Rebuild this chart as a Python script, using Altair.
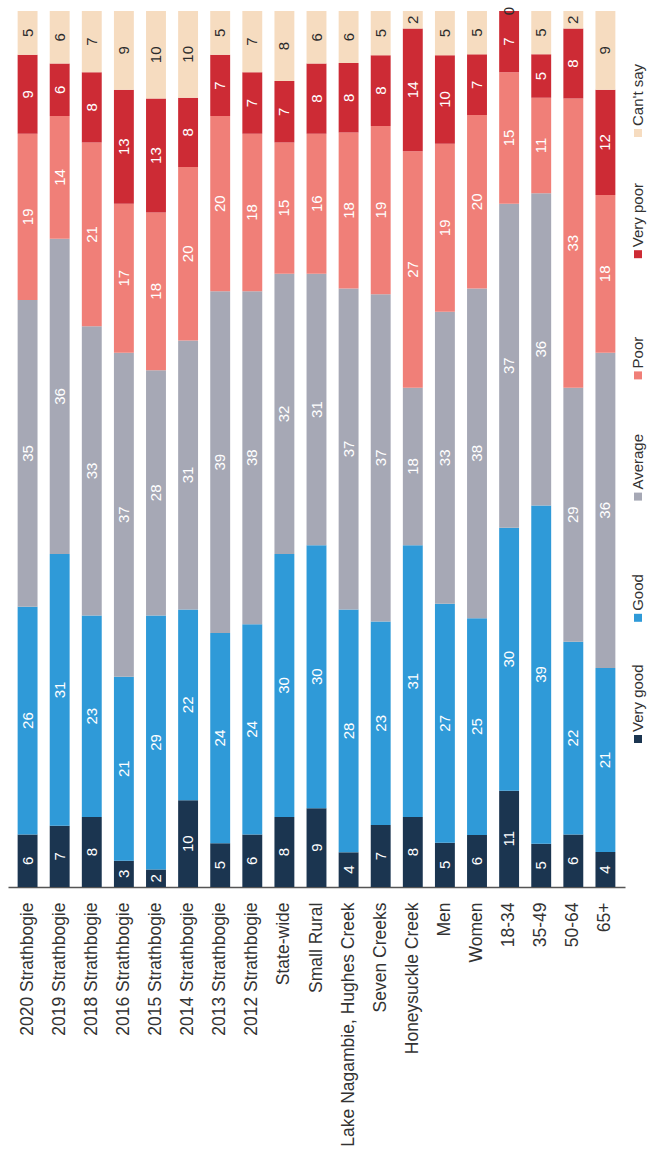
import altair as alt
import pandas as pd

# Survey ratings per group, stacked from "Very good" (bottom) to "Can't say" (top)
categories = [
    "2020 Strathbogie", "2019 Strathbogie", "2018 Strathbogie", "2016 Strathbogie",
    "2015 Strathbogie", "2014 Strathbogie", "2013 Strathbogie", "2012 Strathbogie",
    "State-wide", "Small Rural", "Lake Nagambie, Hughes Creek", "Seven Creeks",
    "Honeysuckle Creek", "Men", "Women", "18-34", "35-49", "50-64", "65+",
]
series = ["Very good", "Good", "Average", "Poor", "Very poor", "Can't say"]

very_good = [6, 7, 8, 3, 2, 10, 5, 6, 8, 9, 4, 7, 8, 5, 6, 11, 5, 6, 4]
good = [26, 31, 23, 21, 29, 22, 24, 24, 30, 30, 28, 23, 31, 27, 25, 30, 39, 22, 21]
average = [35, 36, 33, 37, 28, 31, 39, 38, 32, 31, 37, 37, 18, 33, 38, 37, 36, 29, 36]
poor = [19, 14, 21, 17, 18, 20, 20, 18, 15, 16, 18, 19, 27, 19, 20, 15, 11, 33, 18]
very_poor = [9, 6, 8, 13, 13, 8, 7, 7, 7, 8, 8, 8, 14, 10, 7, 7, 5, 8, 12]
cant_say = [5, 6, 7, 9, 10, 10, 5, 7, 8, 6, 6, 5, 2, 5, 5, 0, 5, 2, 9]

colors = ["#1b3550", "#2f9ad8", "#a6a8b5", "#f07f78", "#cd2b35", "#f6dcc0"]

FONT = "Liberation Sans"
PLOT_W = 617
PLOT_H = 876

rows = []
for s_idx, (name, values) in enumerate(zip(series, [very_good, good, average, poor, very_poor, cant_say])):
    for cat, v in zip(categories, values):
        rows.append({"category": cat, "series": name, "order": s_idx, "value": v})
df = pd.DataFrame(rows)

color_scale = alt.Scale(domain=series, range=colors)

base = (
    alt.Chart(df)
    .transform_stack(
        stack="value",
        groupby=["category"],
        sort=[alt.SortField("order", order="ascending")],
        as_=["y0", "y1"],
        offset="normalize",
    )
    .transform_calculate(mid="(datum.y0 + datum.y1) / 2")
)

x_enc = alt.X(
    "category:N",
    sort=categories,
    title=None,
    scale=alt.Scale(paddingInner=0.38, paddingOuter=0.3),
    axis=alt.Axis(
        labelAngle=270,
        ticks=False,
        labelPadding=15,
        labelFont=FONT,
        labelFontSize=17.5,
        labelColor="#333333",
        labelLimit=400,
        domainColor="#555555",
        domainWidth=1.5,
        grid=False,
    ),
)
y_scale = alt.Scale(domain=[0, 1], nice=False)

bars = base.mark_bar().encode(
    x=x_enc,
    y=alt.Y("y0:Q", scale=y_scale, axis=None),
    y2="y1:Q",
    color=alt.Color("series:N", scale=color_scale, legend=None),
)

values_text = base.mark_text(
    angle=270, align="center", baseline="middle", font=FONT, fontSize=15
).encode(
    x=x_enc,
    y=alt.Y("mid:Q", scale=y_scale, axis=None),
    text="value:Q",
    color=alt.condition(
        alt.datum.series == "Can't say", alt.value("#2b2b2b"), alt.value("#ffffff")
    ),
)

main = alt.layer(bars, values_text).properties(width=PLOT_W, height=PLOT_H)

# Legend drawn as a narrow column with rotated entries
legend_df = pd.DataFrame({"series": series})
legend_y = alt.Y(
    "series:N",
    sort=series,
    scale=alt.Scale(type="point", range=[728, 122], padding=0),
    axis=None,
)
legend_marks = alt.Chart(legend_df).mark_square(size=64, opacity=1).encode(
    x=alt.value(13),
    y=legend_y,
    color=alt.Color("series:N", scale=color_scale, legend=None),
)
legend_text = alt.Chart(legend_df).mark_text(
    angle=270, align="left", baseline="middle", dx=7, font=FONT, fontSize=15, color="#333333"
).encode(
    x=alt.value(13),
    y=legend_y,
    text="series:N",
)
legend = alt.layer(legend_marks, legend_text).properties(width=24, height=PLOT_H)

chart = (
    alt.hconcat(main, legend, spacing=0)
    .properties(padding={"left": 8, "top": 6, "right": 0, "bottom": 0}, background="#ffffff")
    .configure_view(stroke=None)
)

chart.save("out.html", embed_options={"renderer": "svg", "actions": False})
